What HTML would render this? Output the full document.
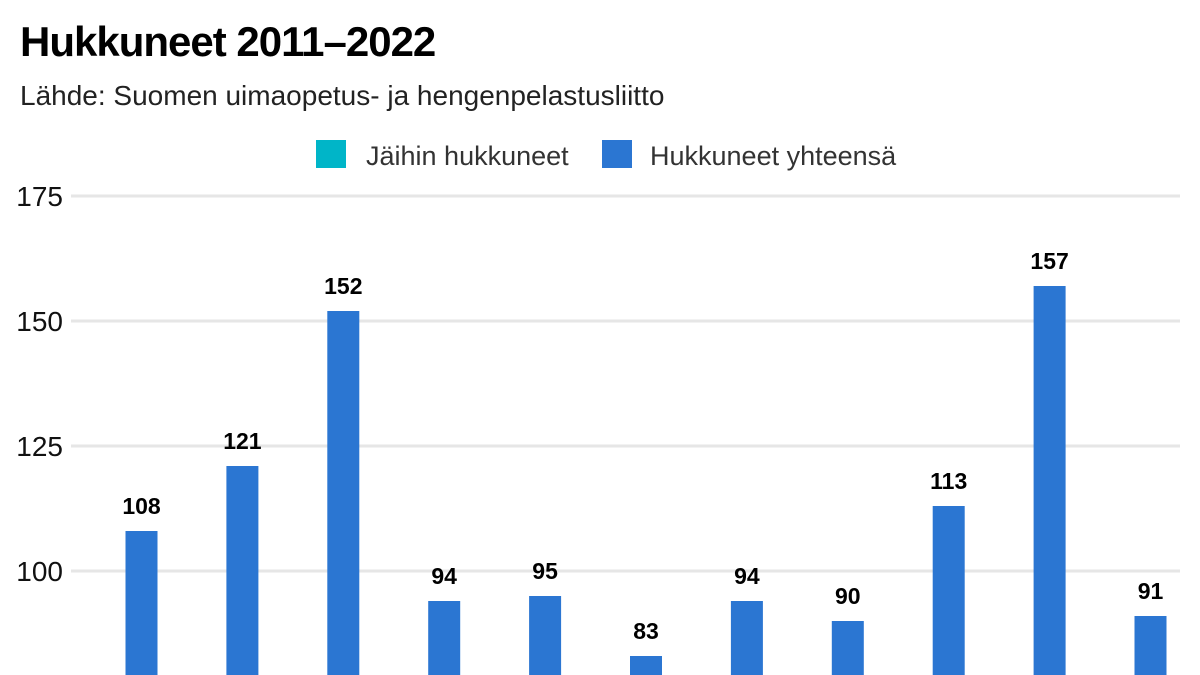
<!DOCTYPE html>
<html><head><meta charset="utf-8"><style>
body{margin:0;width:1200px;height:675px;overflow:hidden;background:#fff;font-family:"Liberation Sans",sans-serif}
</style></head><body>
<div style="position:absolute;left:20px;top:18px;font-size:42px;font-weight:bold;color:#000;letter-spacing:-1px">Hukkuneet 2011–2022</div>
<div style="position:absolute;left:20px;top:80px;font-size:28px;color:#222">Lähde: Suomen uimaopetus- ja hengenpelastusliitto</div>
<svg width="1200" height="675" style="position:absolute;left:0;top:0" id="c">
<g>
<rect x="316" y="140" width="30" height="28" fill="#00b5c8"/>
<text x="366" y="165" font-size="27" fill="#333">Jäihin hukkuneet</text>
<rect x="602" y="140" width="30" height="28" fill="#2b76d2"/>
<text x="650" y="165" font-size="27" fill="#333">Hukkuneet yhteensä</text>
</g>
</svg>
<script>
const years=["2011","2012","2013","2014","2015","2016","2017","2018","2019","2020","2021"];
const totals=[108,121,152,94,95,83,94,90,113,157,91];
const ticks=[100,125,150,175];
const svg=document.getElementById('c');
const NS='http://www.w3.org/2000/svg';
const y=v=>571-(v-100)*5;
const x=i=>141.5+i*100.9;
function mk(t,a){const e=document.createElementNS(NS,t);for(const k in a)e.setAttribute(k,a[k]);svg.appendChild(e);return e;}
ticks.forEach(t=>{
 const l=mk('rect',{x:71,y:y(t)-1.5,width:1109,height:3,fill:'#e6e6e6'});
 
 
 const tx=mk('text',{x:63,y:y(t)+10,'font-size':28,'text-anchor':'end',fill:'#111'});
 tx.textContent=t;
 
 
});
totals.forEach((v,i)=>{
 const b=mk('rect',{x:x(i)-16,y:y(v),width:32,height:700-y(v),fill:'#2b76d2'});
 
 
 const t=mk('text',{x:x(i),y:y(v)-17,'font-size':23,'font-weight':'bold','text-anchor':'middle',fill:'#000'});
 t.textContent=v;
 
 
});
</script>
</body></html>
